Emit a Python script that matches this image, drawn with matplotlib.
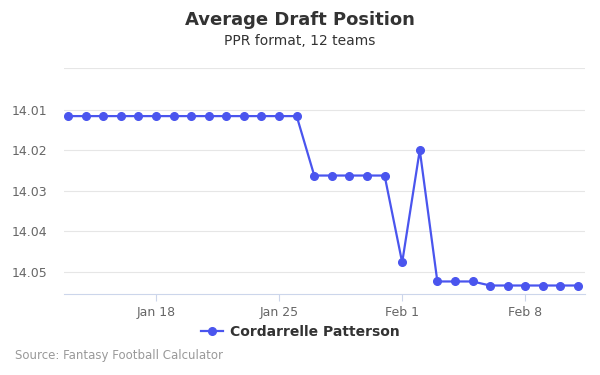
import pandas as pd
import matplotlib
matplotlib.use('Agg')
import matplotlib.pyplot as plt

# data (one point per day)
dates = pd.date_range('2021-01-13', '2021-02-11', freq='D')
adp = [14.0115] * 14 + [14.0262] * 5 + [14.0477, 14.0199] + [14.0524] * 3 + [14.0534] * 6
player = 'Cordarrelle Patterson'
tick_dates = pd.to_datetime(['2021-01-18', '2021-01-25', '2021-02-01', '2021-02-08'])
tick_labels = ['Jan 18', 'Jan 25', 'Feb 1', 'Feb 8']
y_ticks = [14.01, 14.02, 14.03, 14.04, 14.05]

line_color = '#4a55ee'

fig = plt.figure(figsize=(6, 3.75), dpi=100)
ax = fig.add_axes([0.1067, 0.216, 0.8683, 0.6027])

ax.plot(dates, adp, color=line_color, lw=1.6, marker='o', ms=5.5, label=player)

ax.set_xlim(pd.Timestamp('2021-01-12 18:30'), pd.Timestamp('2021-02-11 09:30'))
ax.set_ylim(14.0555, 13.9996)
ax.set_yticks(y_ticks)
ax.set_yticklabels(['%.2f' % v for v in y_ticks])
ax.set_xticks(tick_dates)
ax.set_xticklabels(tick_labels)

ax.grid(axis='y', color='#e6e6e6', lw=0.8)
# top grid line at 14.00
ax.axhline(13.9996, color='#e6e6e6', lw=0.8)
ax.set_axisbelow(True)
for s in ['top', 'right', 'left']:
    ax.spines[s].set_visible(False)
ax.spines['bottom'].set_color('#ccd6eb')
ax.tick_params(axis='y', length=0, labelsize=9, colors='#666666', pad=12)
ax.tick_params(axis='x', length=5, color='#ccd6eb', labelsize=9, labelcolor='#666666')

fig.text(0.5, 0.947, 'Average Draft Position', ha='center', va='center',
         fontsize=13, fontweight='bold', color='#333333')
fig.text(0.5, 0.891, 'PPR format, 12 teams', ha='center', va='center',
         fontsize=10, color='#333333')

leg = fig.legend(loc='center', bbox_to_anchor=(0.5, 0.115), frameon=False,
                 prop={'weight': 'bold', 'size': 10}, handlelength=1.6,
                 handletextpad=0.5, labelcolor='#333333')

fig.text(0.025, 0.051, 'Source: Fantasy Football Calculator', ha='left', va='center',
         fontsize=8.5, color='#999999')

fig.savefig('out.png', dpi=100)
